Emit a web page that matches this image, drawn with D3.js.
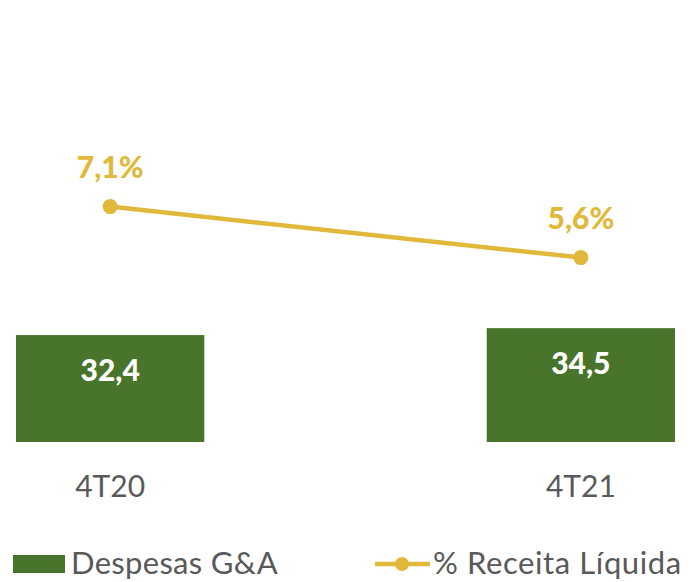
<!DOCTYPE html>
<html>
<head>
<meta charset="utf-8">
<script src="https://cdn.jsdelivr.net/npm/d3@7"></script>
<style>
  html, body { margin: 0; padding: 0; background: #fff; }
  svg { display: block; }
</style>
</head>
<body>
<svg id="chart"></svg>
<script>
const categories = ['4T20', '4T21'];
const despesas = [32.4, 34.5];
const receitaPct = [7.1, 5.6];
const barLabels = ['32,4', '34,5'];
const pctLabels = ['7,1%', '5,6%'];
const legendLabels = ['Despesas G&A', '% Receita Líquida'];

const width = 689, height = 582;
const green = '#48742b';
const gold = '#e0b83a';
const grey = '#595959';

function translate(x, y) {
    return `translate(${x},${y})`;
}

const svg = d3.select('#chart')
    .attr('width', width)
    .attr('height', height)
    .style('font-family', 'Lato, sans-serif');

const x = d3.scaleBand()
    .domain(categories)
    .range([16, 675])
    .paddingInner(0.6)
    .paddingOuter(0);

const yBar = d3.scaleLinear().domain([0, 40]).range([442, 310]);
const yLine = d3.scaleLinear().domain([0, 10]).range([448, 108]);

const cx = d => x(d) + x.bandwidth() / 2;

// bars
svg.append('g')
    .selectAll('rect')
    .data(categories)
    .enter()
    .append('rect')
    .attr('x', d => x(d))
    .attr('width', x.bandwidth())
    .attr('y', (d, i) => yBar(despesas[i]))
    .attr('height', (d, i) => yBar(0) - yBar(despesas[i]))
    .style('fill', green);

svg.append('g')
    .selectAll('text')
    .data(categories)
    .enter()
    .append('text')
    .attr('x', cx)
    .attr('y', (d, i) => yBar(despesas[i]) + 46)
    .attr('text-anchor', 'middle')
    .style('font-size', '30px')
    .style('font-weight', 900)
    .style('fill', '#fff')
    .text((d, i) => barLabels[i]);

// line
const line = d3.line()
    .x((d, i) => cx(categories[i]))
    .y(d => yLine(d));

svg.append('path')
    .datum(receitaPct)
    .attr('d', line)
    .style('fill', 'none')
    .style('stroke', gold)
    .style('stroke-width', 4.5);

svg.append('g')
    .selectAll('circle')
    .data(receitaPct)
    .enter()
    .append('circle')
    .attr('cx', (d, i) => cx(categories[i]))
    .attr('cy', d => yLine(d))
    .attr('r', 7.5)
    .style('fill', gold);

svg.append('g')
    .selectAll('text')
    .data(receitaPct)
    .enter()
    .append('text')
    .attr('x', (d, i) => cx(categories[i]))
    .attr('y', d => yLine(d) - 29)
    .attr('text-anchor', 'middle')
    .style('font-size', '30px')
    .style('font-weight', 900)
    .style('fill', gold)
    .text((d, i) => pctLabels[i]);

// category axis labels
svg.append('g')
    .selectAll('text')
    .data(categories)
    .enter()
    .append('text')
    .attr('x', cx)
    .attr('y', 497)
    .attr('text-anchor', 'middle')
    .style('font-size', '30px')
    .style('fill', grey)
    .text(d => d);

// legend
const legend = svg.append('g').attr('transform', translate(0, 574));

legend.append('rect')
    .attr('x', 13)
    .attr('y', -19)
    .attr('width', 52)
    .attr('height', 18)
    .style('fill', green);

legend.append('text')
    .attr('x', 71)
    .attr('y', 0)
    .style('font-size', '31px')
    .style('letter-spacing', '0.3px')
    .style('fill', grey)
    .text(legendLabels[0]);

legend.append('line')
    .attr('x1', 375)
    .attr('x2', 430)
    .attr('y1', -10)
    .attr('y2', -10)
    .style('stroke', gold)
    .style('stroke-width', 4.5);

legend.append('circle')
    .attr('cx', 402)
    .attr('cy', -10)
    .attr('r', 7)
    .style('fill', gold);

legend.append('text')
    .attr('x', 433)
    .attr('y', 0)
    .style('font-size', '31px')
    .style('letter-spacing', '0.6px')
    .style('fill', grey)
    .text(legendLabels[1]);
</script>
</body>
</html>
